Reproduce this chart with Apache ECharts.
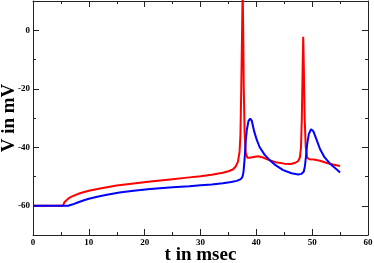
<!DOCTYPE html>
<html><head><meta charset="utf-8">
<script src="https://cdn.jsdelivr.net/npm/echarts@6/dist/echarts.min.js"></script>
<style>html,body{margin:0;padding:0;background:#fff}#c{width:374px;height:263px}</style>
</head><body><div id="c"></div>
<script>
var tRed = [0,5.4,5.5,5.7,6.0,6.5,7.0,8.0,9.0,10,12,15,18,21,25,28,30,32,34,35,35.8,36.3,36.7,37.0,37.15,37.3,37.45,37.55,37.65,37.75,37.9,38.1,38.4,38.8,39.5,40.3,41.2,42.3,43.5,45,46.2,47,47.5,47.8,48.0,48.15,48.3,48.4,48.5,48.65,48.85,49.1,49.5,50.3,51.4,52.5,53.7,55];
var vRed = [-60,-60,-59.3,-58.6,-58.0,-57.3,-56.8,-56.0,-55.4,-54.9,-54.1,-53.1,-52.4,-51.7,-50.9,-50.3,-49.9,-49.4,-48.7,-48.2,-47.6,-46.6,-45,-41.5,-36,-20,0,14,0,-20,-35,-42,-43.6,-43.6,-43.3,-43.1,-43.5,-44.4,-45.1,-45.6,-45.7,-45.3,-44.7,-43.5,-40,-30,-12,-2.2,-12,-30,-40,-43.5,-44.1,-44.2,-44.6,-45.3,-45.9,-46.4];
var tBlue = [0,6.3,7.0,8.0,9.0,10,11.5,13,15.5,18,21,25,28,30,32,34,35.5,36.5,37.2,37.5,37.7,37.9,38.1,38.3,38.6,38.9,39.2,39.6,40.1,40.6,41.5,42.4,43.5,44.8,46.3,47.5,48.1,48.5,48.7,48.9,49.1,49.4,49.8,50.2,50.8,51.4,52.2,53.2,54.2,55];
var vBlue = [-60,-60,-59.6,-58.9,-58.2,-57.6,-56.9,-56.3,-55.5,-54.9,-54.3,-53.7,-53.3,-53.0,-52.7,-52.3,-51.9,-51.5,-50.9,-50.2,-48.5,-44,-38,-34,-31,-30.2,-31,-34.5,-37.6,-40,-42.6,-44.4,-46.2,-47.8,-48.9,-49.3,-49.1,-48.3,-46.5,-43,-39,-35.5,-33.8,-34.5,-37.5,-40.6,-43.4,-45.6,-47.3,-48.6];
var xTicks = [0,10,20,30,40,50,60];
var yTicks = [-60,-40,-20,0];
var yMinorTicks = [-70,-50,-30,-10,10];

function zip(a,b){var r=[];for(var i=0;i<a.length;i++)r.push([a[i],b[i]]);return r;}
var font = '"Liberation Serif","DejaVu Serif",serif';
var axColor = '#222';
var axLine = {show:true,onZero:false,lineStyle:{color:axColor,width:1}};
var gridBox = {left:33,right:6,top:1,bottom:28,containLabel:false,outerBoundsMode:'none'};
var labelStyle = {fontFamily:font,fontWeight:'bold',fontSize:9,color:'#000'};
var nameStyle = {fontFamily:font,fontWeight:'bold',fontSize:19,color:'#000'};
var chart = echarts.init(document.getElementById('c'));
chart.setOption({
  animation:false,
  grid:[gridBox, Object.assign({}, gridBox)],
  xAxis:[
   {gridIndex:0,type:'value',min:0,max:60,interval:10,position:'bottom',
    name:'t in msec',nameLocation:'middle',nameGap:11,nameMoveOverlap:false,nameTextStyle:nameStyle,
    axisLine:axLine,axisTick:{inside:true,length:6,lineStyle:{color:axColor}},
    minorTick:{show:true,splitNumber:2,length:3,lineStyle:{color:axColor}},
    splitLine:{show:false},
    axisLabel:Object.assign({margin:3,customValues:xTicks},labelStyle)},
   {gridIndex:0,type:'value',min:0,max:60,interval:10,position:'top',
    axisLine:axLine,axisTick:{inside:true,length:6,lineStyle:{color:axColor}},
    minorTick:{show:true,splitNumber:2,length:3,lineStyle:{color:axColor}},
    splitLine:{show:false},axisLabel:{show:false}},
   {gridIndex:1,type:'value',min:0,max:60,show:false}
  ],
  yAxis:[
   {gridIndex:0,type:'value',min:-70,max:10,interval:10,position:'left',
    name:'V in mV',nameLocation:'middle',nameGap:14,nameMoveOverlap:false,nameTextStyle:nameStyle,
    axisLine:axLine,axisTick:{inside:true,length:6,customValues:yTicks,lineStyle:{color:axColor}},
    splitLine:{show:false},
    axisLabel:Object.assign({margin:3,customValues:yTicks},labelStyle)},
   {gridIndex:0,type:'value',min:-70,max:10,interval:10,position:'right',
    axisLine:axLine,axisTick:{inside:true,length:6,customValues:yTicks,lineStyle:{color:axColor}},
    splitLine:{show:false},axisLabel:{show:false}},
   {gridIndex:1,type:'value',min:-70,max:10,interval:10,position:'left',
    axisLine:{show:false,onZero:false},axisTick:{inside:true,length:3,customValues:yMinorTicks,lineStyle:{color:axColor}},
    splitLine:{show:false},axisLabel:{show:false}},
   {gridIndex:1,type:'value',min:-70,max:10,interval:10,position:'right',
    axisLine:{show:false,onZero:false},axisTick:{inside:true,length:3,customValues:yMinorTicks,lineStyle:{color:axColor}},
    splitLine:{show:false},axisLabel:{show:false}}
  ],
  series:[
    {type:'line',data:zip(tRed,vRed),showSymbol:false,symbol:'none',clip:true,
     lineStyle:{color:'#ff0000',width:2},xAxisIndex:0,yAxisIndex:0},
    {type:'line',data:zip(tBlue,vBlue),showSymbol:false,symbol:'none',clip:true,
     lineStyle:{color:'#0000ff',width:2},xAxisIndex:0,yAxisIndex:0}
  ]
});
</script></body></html>
